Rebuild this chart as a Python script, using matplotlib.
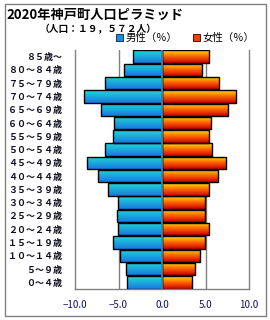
import numpy as np
import matplotlib
matplotlib.use('Agg')
import matplotlib.pyplot as plt
from matplotlib.colors import LinearSegmentedColormap
from matplotlib.patches import Rectangle, Patch

plt.rcParams['font.family'] = ['Noto Sans CJK JP', 'DejaVu Sans']
plt.rcParams['axes.unicode_minus'] = True

ages = ['０～４歳', '５～９歳', '１０～１４歳', '１５～１９歳', '２０～２４歳', '２５～２９歳',
        '３０～３４歳', '３５～３９歳', '４０～４４歳', '４５～４９歳', '５０～５４歳', '５５～５９歳',
        '６０～６４歳', '６５～６９歳', '７０～７４歳', '７５～７９歳', '８０～８４歳', '８５歳～']
male = [4.0, 4.1, 4.8, 5.6, 5.1, 5.2, 5.1, 6.2, 7.4, 8.6, 6.5, 5.6, 5.5, 7.0, 9.0, 6.5, 4.4, 3.3]
female = [3.5, 3.8, 4.4, 4.9, 5.4, 4.9, 4.9, 5.4, 6.4, 7.4, 5.8, 5.4, 5.6, 7.6, 8.5, 6.5, 4.6, 5.4]
xticks = [-10, -5, 0, 5, 10]

title = '2020年神戸町人口ピラミッド'
subtitle = '（人口：１９，５７２人）'

cmap_m = LinearSegmentedColormap.from_list('m', ['#1878e0', '#20d8d8'])
cmap_f = LinearSegmentedColormap.from_list('f', ['#c80000', '#ff6000', '#ffe000'])
grad = np.linspace(0, 1, 64).reshape(-1, 1)

fig = plt.figure(figsize=(2.7, 3.2), dpi=100)
ax = fig.add_axes([75/270, 1-289/320, 174/270, 239/320])

y = np.arange(len(ages))
bars_m = ax.barh(y, -np.array(male), height=0.94, facecolor='none', edgecolor='black', linewidth=1, zorder=3)
bars_f = ax.barh(y, female, height=0.94, facecolor='none', edgecolor='black', linewidth=1, zorder=3)

# gradient fill clipped to each bar
for bars, cm in [(bars_m, cmap_m), (bars_f, cmap_f)]:
    for r in bars:
        x0, w = r.get_x(), r.get_width()
        y0, h = r.get_y(), r.get_height()
        im = ax.imshow(grad, extent=[min(x0, x0+w), max(x0, x0+w), y0, y0+h], origin='lower',
                       aspect='auto', cmap=cm, zorder=2, interpolation='bilinear')
        im.set_clip_path(r)

ax.axvline(0, color='#5a8898', linewidth=1.2, zorder=4)
for v in [-5, 5]:
    ax.axvline(v, color='#808080', linewidth=1, zorder=1)

ax.set_xlim(-10, 10)
ax.set_ylim(-0.5, len(ages) - 0.5)
ax.set_xticks(xticks)
ax.set_xticklabels(['%.1f' % abs(v) if v >= 0 else '\u2212%.1f' % abs(v) for v in xticks],
                   fontsize=7, color='#10106a')
ax.set_yticks(y)
ax.set_yticklabels(ages, fontsize=6.5, color='#101020', fontweight='bold')
ax.tick_params(axis='both', length=0)
ax.tick_params(axis='x', pad=8)
ax.tick_params(axis='y', pad=9)
for s in ['left', 'right', 'bottom']:
    ax.spines[s].set_color('#808080')
    ax.spines[s].set_linewidth(1)
ax.spines['top'].set_visible(False)

fig.patches.append(Rectangle((5/270, 4/320), 261/270, 312/320, transform=fig.transFigure,
                             fill=False, edgecolor='#808080', linewidth=1))

fig.text(6/270, 1-15/320, title, fontsize=9.5, fontweight='bold', va='center', ha='left')
fig.text(40/270, 1-29/320, subtitle, fontsize=7, fontweight='bold', va='center', ha='left')

handles = [Patch(facecolor='#1890e0', edgecolor='#204060', linewidth=0.8),
           Patch(facecolor='#ff4000', edgecolor='#402020', linewidth=0.8)]
fig.legend(handles, ['男性（％）', '女性（％）'], loc='center left', bbox_to_anchor=(116/270, 1-38/320),
           ncol=2, frameon=False, fontsize=7.5, handlelength=0.7, handleheight=0.7,
           handletextpad=0.2, columnspacing=1.5, borderpad=0, borderaxespad=0)

fig.savefig('out.png', dpi=100)
